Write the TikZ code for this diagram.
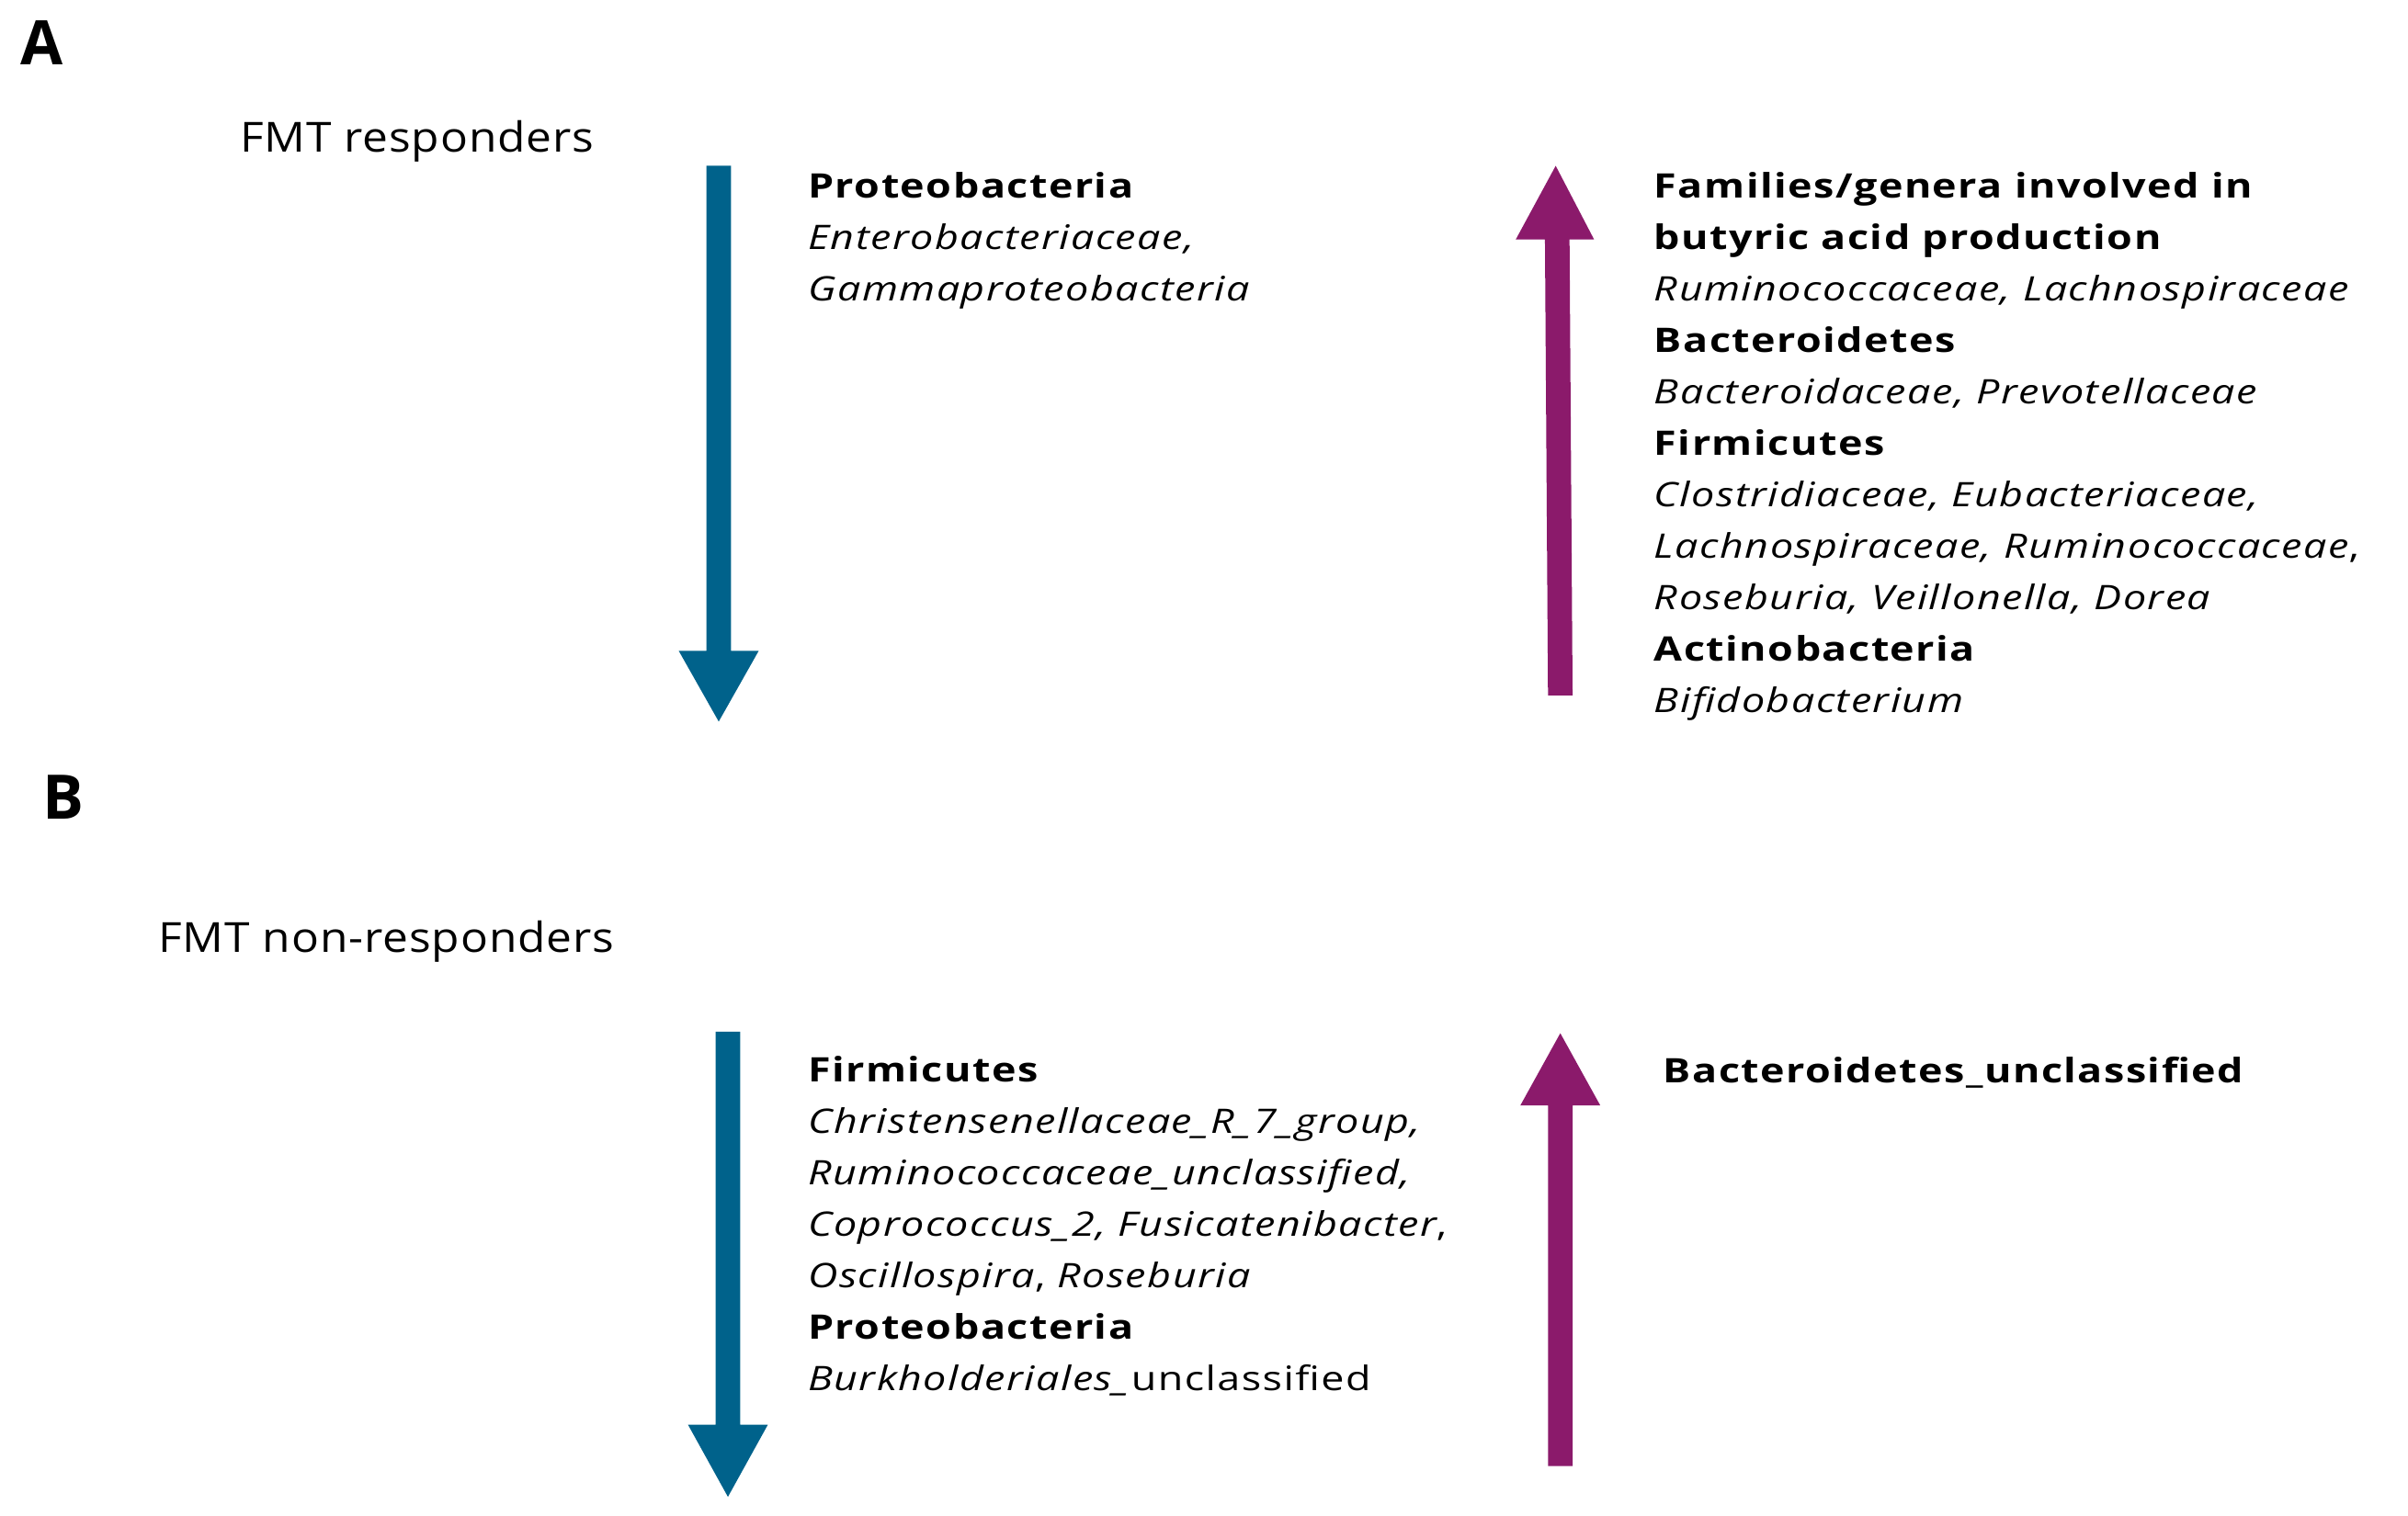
\documentclass[tikz,border=0pt]{standalone}
\usepackage{fontspec}
\setmainfont{Open Sans}
\newfontfamily\wide{Open Sans}[FakeStretch=1.22,LetterSpace=4]
\newfontfamily\hwide{Open Sans}[FakeStretch=1.1,LetterSpace=2]
\begin{document}
\begin{tikzpicture}[x=1pt,y=-1pt,
  txt/.style={anchor=north west,inner sep=0pt,align=left,font=\wide\fontsize{22}{33.5}\selectfont},
  head/.style={anchor=west,inner sep=0pt,font=\hwide\fontsize{27}{30}\selectfont},
  lett/.style={inner sep=0pt,font=\fontsize{40}{44}\selectfont\bfseries}]
\definecolor{downc}{HTML}{00628B}
\definecolor{upc}{HTML}{8B1A6B}
\useasboundingbox (0,0) rectangle (1568,987);
\node[lett] (A) at (27,28) {A};
\node[lett] (B) at (41,519) {B};
\node[head] (r) at (156,92) {FMT responders};
\node[head] (nr) at (103,613) {FMT non-responders};
% arrows A
\fill[downc] (460,108) -- (476,108) -- (476,424) -- (494,424) -- (468,470) -- (442,424) -- (460,424) -- cycle;
\fill[upc] (1008,453) -- (1024,453) -- (1022,156) -- (1038,156) -- (1013,108) -- (987,156) -- (1006,156) -- cycle;
% arrows B
\fill[downc] (466,672) -- (482,672) -- (482,928) -- (500,928) -- (474,975) -- (448,928) -- (466,928) -- cycle;
\fill[upc] (1008,955) -- (1024,955) -- (1024,720) -- (1042,720) -- (1016,673) -- (990,720) -- (1008,720) -- cycle;
\node[txt] (t1) at (526,112) {\textbf{Proteobacteria}\\ \textit{Enterobacteriaceae,}\\ \textit{Gammaproteobacteria}};
\node[txt] (t2) at (1077,112) {\textbf{Families/genera involved in}\\ \textbf{butyric acid production}\\ \textit{Ruminococcaceae, Lachnospiraceae}\\ \textbf{Bacteroidetes}\\ \textit{Bacteroidaceae, Prevotellaceae}\\ \textbf{Firmicutes}\\ \textit{Clostridiaceae, Eubacteriaceae,}\\ \textit{Lachnospiraceae, Ruminococcaceae},\\ \textit{Roseburia, Veillonella, Dorea}\\ \textbf{Actinobacteria}\\ \textit{Bifidobacterium}};
\node[txt] (t3) at (526,688) {\textbf{Firmicutes}\\ \textit{Christensenellaceae\_R\_7\_group,}\\ \textit{Ruminococcaceae\_unclassified,}\\ \textit{Coprococcus\_2, Fusicatenibacter},\\ \textit{Oscillospira}, \textit{Roseburia}\\ \textbf{Proteobacteria}\\ \textit{Burkholderiales\_}unclassified};
\node[txt] (t4) at (1083,688) {\textbf{Bacteroidetes\_unclassified}};
\end{tikzpicture}
\end{document}
